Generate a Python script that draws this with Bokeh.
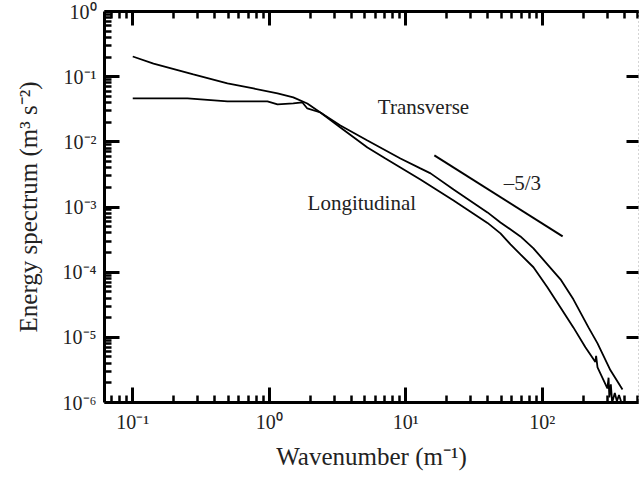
from bokeh.plotting import figure
from bokeh.models import LogAxis, FixedTicker, CustomJSTickFormatter, Range1d
from bokeh.core.properties import value
from bokeh.embed import file_html
from bokeh.resources import INLINE

# ---- data ----
long_k = [0.1, 0.142, 0.278, 0.494, 0.766, 1.15, 1.50, 1.90, 2.37, 3.32, 5.24, 7.10,
          9.14, 12.8, 22.4, 39.7, 49.4, 58.5, 69.2, 86.2, 109, 136, 169, 207, 245,
          248, 254, 300, 306, 310, 318, 325, 340, 352, 365, 380]
long_E = [0.204, 0.159, 0.108, 0.0787, 0.0659, 0.0553, 0.048, 0.0388, 0.0282, 0.0166,
          0.0082, 0.00556, 0.00405, 0.00265, 0.00126, 5.7e-4, 3.94e-4, 2.67e-4,
          1.875e-4, 1.19e-4, 5.85e-5, 2.88e-5, 1.42e-5, 7.03e-6, 4.2e-6, 5.2e-6,
          3.47e-6, 1.65e-6, 2.4e-6, 1.2e-6, 1.9e-6, 1.0e-6, 1.4e-6, 1.05e-6, 1.3e-6,
          1.0e-6]

trans_k = [0.1, 0.252, 0.494, 0.766, 0.97, 1.15, 1.50, 1.75, 1.90, 2.37, 3.32, 5.24,
           9.14, 12.8, 15.2, 22.4, 39.7, 49.4, 69.2, 86.2, 109, 136, 169, 218, 254,
           316, 374, 387]
trans_E = [0.0463, 0.0463, 0.0417, 0.0417, 0.0417, 0.0375, 0.0388, 0.0402, 0.0325,
           0.0282, 0.01785, 0.0105, 0.00556, 0.00391, 0.00328, 0.00186, 8.26e-4,
           5.8e-4, 3.54e-4, 2.32e-4, 1.318e-4, 7.76e-5, 3.83e-5, 1.42e-5, 8.09e-6,
           3.12e-6, 1.77e-6, 1.59e-6]

slope_k = [16.2, 141]
slope_E = [0.00618, 3.54e-4]

x_major = [0.1, 1, 10, 100]
y_major = [1e-6, 1e-5, 1e-4, 1e-3, 1e-2, 1e-1, 1e0]

labels_text = ["Transverse", "Longitudinal", "\u20135/3"]
labels_k = [6.24, 1.91, 52.2]
labels_E = [0.0337, 1.17e-3, 2.3e-3]

x_lo, x_hi = 0.0621, 507
y_lo, y_hi = 1e-6, 1.0

x_minor = [m * 10.0 ** d for d in range(-2, 3) for m in range(2, 10)
           if x_lo < m * 10.0 ** d < x_hi]
y_minor = [m * 10.0 ** d for d in range(-6, 0) for m in range(2, 10)]

FONT = "Liberation Serif"

p = figure(frame_width=534, frame_height=391,
           x_axis_type="log", y_axis_type="log",
           x_range=Range1d(x_lo, x_hi), y_range=Range1d(y_lo, y_hi),
           output_backend="svg", toolbar_location=None,
           min_border_left=104, min_border_right=2, min_border_top=11,
           min_border_bottom=75)
p.outline_line_color = None
p.xgrid.visible = False
p.ygrid.visible = False
p.background_fill_color = "white"
p.border_fill_color = "white"

fmt_code = """
const e = Math.round(Math.log10(tick));
const sup = {'-':'\u207b','0':'\u2070','1':'\u00b9','2':'\u00b2','3':'\u00b3','4':'\u2074','5':'\u2075','6':'\u2076','7':'\u2077','8':'\u2078','9':'\u2079'};
return '10' + String(e).split('').map(c => sup[c]).join('');
"""


def style(ax, ticks, minor, tick_len, show_labels):
    ax.ticker = FixedTicker(ticks=ticks, minor_ticks=minor)
    ax.axis_line_width = 3
    ax.axis_line_color = "black"
    ax.major_tick_in = tick_len
    ax.major_tick_out = 0
    ax.minor_tick_in = tick_len // 2
    ax.minor_tick_out = 0
    ax.major_tick_line_width = 3
    ax.minor_tick_line_width = 2.5
    ax.major_tick_line_color = "black"
    ax.minor_tick_line_color = "black"
    if show_labels:
        ax.formatter = CustomJSTickFormatter(code=fmt_code)
        ax.major_label_text_font = FONT
        ax.major_label_text_font_size = "20px"
        ax.major_label_text_color = "#222222"
        ax.major_label_standoff = 8
        ax.axis_label_text_font = FONT
        ax.axis_label_text_font_size = "25px"
        ax.axis_label_text_font_style = "normal"
        ax.axis_label_text_color = "#222222"
    else:
        ax.major_label_text_font_size = "0px"
        ax.major_label_standoff = 0
        ax.formatter = CustomJSTickFormatter(code="return '';")


style(p.xaxis[0], x_major, x_minor, 15, True)
style(p.yaxis[0], y_major, y_minor, 15, True)
p.xaxis[0].axis_label = "Wavenumber (m\u207b\u00b9)"
p.xaxis[0].axis_label_standoff = 7
p.yaxis[0].axis_label = "Energy spectrum (m\u00b3 s\u207b\u00b2)"
p.yaxis[0].axis_label_standoff = 18

top = LogAxis()
style(top, x_major, x_minor, 14, False)
p.add_layout(top, "above")

right = LogAxis()
style(right, y_major, [], 12, False)
right.minor_tick_line_color = None
right.axis_line_width = 1
right.axis_line_color = "#aaaaaa"
right.axis_line_dash = "1 3"
p.add_layout(right, "right")

p.line(long_k, long_E, line_color="black", line_width=1.8)
p.line(trans_k, trans_E, line_color="black", line_width=1.8)
p.line(slope_k, slope_E, line_color="black", line_width=2)

p.text(x=labels_k, y=labels_E, text=labels_text, text_font=value(FONT),
       text_font_size="21px", text_baseline="middle", text_align="left",
       text_color="#222222")

open("out.html", "w").write(file_html(p, INLINE))
